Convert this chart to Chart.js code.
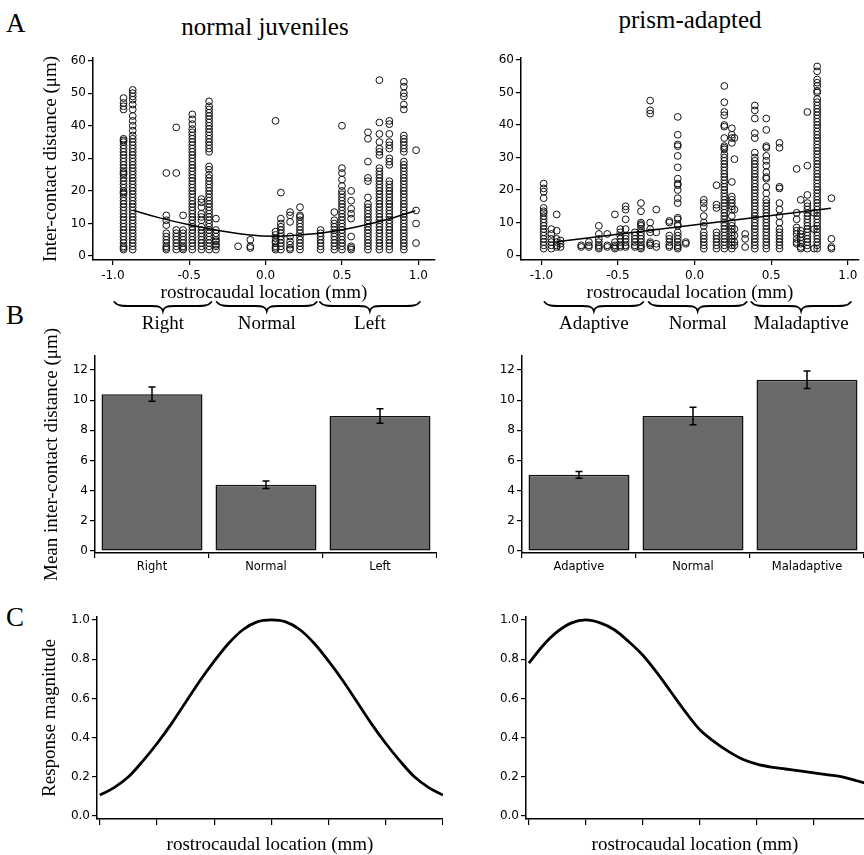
<!DOCTYPE html>
<html>
<head>
<meta charset="utf-8">
<script src="https://cdn.jsdelivr.net/npm/chart.js@4.4.0/dist/chart.umd.min.js"></script>
<style>
  html, body { margin: 0; padding: 0; background: #fff; }
  #fig { position: relative; width: 864px; height: 855px; overflow: hidden; background: #fff; }
  #fig canvas { position: absolute; }
  .lbl { position: absolute; font-family: 'Liberation Serif', 'Times New Roman', serif; color: #000; line-height: 1; white-space: nowrap; }
  .ttl { transform: translateX(-50%); font-size: 25px; }
  .panel { font-size: 27px; left: 6px; }
</style>
</head>
<body>
<div id="fig">
  <div class="lbl panel" style="top:10px">A</div>
  <div class="lbl panel" style="top:302px">B</div>
  <div class="lbl panel" style="top:604px">C</div>
  <div class="lbl ttl" style="left:265px; top:14px">normal juveniles</div>
  <div class="lbl ttl" style="left:690px; top:7px">prism-adapted</div>

  <canvas id="scatterJuv" width="440" height="300" style="left:0; top:40px"></canvas>
  <canvas id="scatterPrism" width="424" height="300" style="left:440px; top:40px"></canvas>
  <canvas id="barsJuv" width="437" height="275" style="left:0; top:310px"></canvas>
  <canvas id="barsPrism" width="424" height="275" style="left:440px; top:310px"></canvas>
  <canvas id="tuningJuv" width="443" height="256" style="left:0; top:600px"></canvas>
  <canvas id="tuningPrism" width="424" height="256" style="left:440px; top:600px"></canvas>
</div>

<script>
// ---- data: inter-contact distances, one column of points per recording site ----
const juvColX = [-0.93, -0.87, -0.65, -0.585, -0.54, -0.48, -0.42, -0.37, -0.325, -0.18, -0.1,
  0.065, 0.1, 0.16, 0.225, 0.36, 0.45, 0.5, 0.56, 0.67, 0.745, 0.81, 0.905, 0.985];
const juvColY = [
  [48.5, 47, 46, 45, 36, 35.5, 35, 34, 33, 32, 31, 30, 29, 28, 27, 26, 25.5, 25, 24, 23, 22, 21, 20, 19.5, 19, 18, 17, 16, 15, 14, 13, 12, 11, 10, 9, 8, 7, 6, 5, 4, 3, 2.5, 2],
  [51, 50, 49, 48, 46.5, 45, 43, 41.5, 40, 38.5, 37, 36, 35, 34, 33, 32, 31, 30, 29, 28, 27, 26, 25, 24, 23, 22, 21, 20, 19, 18, 17, 16, 15, 14, 13, 12, 11, 10, 9, 8, 7, 6, 5, 4, 3, 2],
  [25.5, 12.5, 11, 9.5, 7, 6, 5, 4, 3, 2.5, 2],
  [39.5, 25.5, 8, 7, 6, 5, 4, 3, 2],
  [12.5, 8, 7, 6, 5, 4, 3, 2.5, 2],
  [43.5, 42, 40.5, 39, 38, 37, 36, 35, 34, 33, 32, 31, 30, 29, 28, 27, 26, 25, 24, 23, 22, 21, 20, 19, 18, 17, 16, 15, 14, 13, 12, 11, 10, 9, 8, 7, 6, 5, 4, 3, 2],
  [17.5, 16.5, 15, 13, 12, 11, 9, 8, 7, 6, 5, 4, 3, 2],
  [47.5, 46, 45, 44, 43, 42, 41, 40, 39, 38, 37, 36, 35, 34, 33, 32, 27.5, 26.5, 25, 24, 23, 22, 21, 20, 19, 18, 17, 16, 15, 14, 13, 12, 11, 10, 9, 8, 7, 6, 5, 4, 3, 2],
  [11.5, 8, 7, 6, 5, 4.5, 3.5, 3, 2],
  [3],
  [5, 3, 2.5],
  [41.5, 7.5, 6.5, 5.5, 4.5, 4, 3, 2.5, 2],
  [19.5, 11.5, 10, 9, 8, 7, 6, 5, 4, 3, 2],
  [13.5, 12.5, 10.5, 6, 4.5, 3.5, 2.5, 2],
  [15, 12.5, 12, 11, 10, 9, 8, 7, 6, 5, 4, 3, 2],
  [8, 7, 6, 5, 4, 3, 2],
  [13.5, 11, 10, 9, 8, 7, 6, 5, 4, 3, 2],
  [40, 27, 25.5, 23.5, 21.5, 20, 19, 18, 17, 16, 15, 14, 13, 12, 11, 10, 9, 8, 7, 6, 5, 4, 3, 2],
  [20, 17, 14.5, 13, 11.5, 6, 3, 2.5, 2],
  [38, 36, 29, 24, 23, 18, 16, 15, 14, 13, 12, 11, 10, 9, 8, 7, 6, 5, 4, 3, 2],
  [54, 41, 37.5, 35, 33, 32, 31, 27, 26, 25, 24, 23, 22, 21, 20, 19, 18, 17, 16, 15, 14, 13, 12, 11, 10, 9, 8, 7, 6, 5, 4, 3, 2],
  [41.5, 40.5, 37.5, 35, 34, 33, 30, 29, 28, 23, 22, 21, 20, 19, 18, 17, 16, 15, 14, 13, 12, 11, 10, 9, 8, 7, 6, 5, 4, 3, 2],
  [53.5, 52, 50, 49, 46.5, 45, 37, 36, 35, 34, 33, 32, 29, 28, 27, 26, 25, 24, 23, 22, 21, 20, 19, 18, 17, 16, 15, 14, 13, 12, 11, 10, 9, 8, 7, 6, 5, 4, 3, 2],
  [32.5, 14, 10, 4]
];
// quadratic fit through the juvenile data
const juvFitX = [-0.87, -0.7, -0.5, -0.3, -0.1, 0.05, 0.2, 0.4, 0.6, 0.8, 0.98];
const juvFitY = [14.1, 11.8, 9.6, 7.8, 6.5, 6.1, 6.4, 7.3, 9.0, 11.3, 13.9];

const prismColX = [-0.985, -0.935, -0.9, -0.875, -0.74, -0.69, -0.625, -0.57, -0.52, -0.485, -0.45,
  -0.39, -0.35, -0.29, -0.25, -0.165, -0.11, -0.057, 0.06, 0.143, 0.194, 0.243, 0.26, 0.33,
  0.393, 0.468, 0.554, 0.666, 0.693, 0.736, 0.78, 0.8, 0.893];
const prismColY = [
  [22, 20.5, 19.5, 17.5, 14.5, 13.5, 13, 12, 11, 10, 9, 8, 7, 6, 5, 4, 3, 2],
  [8, 6.5, 5, 4, 3, 2],
  [12.5, 7.5, 5, 4, 3, 2.5],
  [4.5, 3.5, 2.5],
  [3, 2.5],
  [4, 3, 2.5],
  [9, 6.5, 5, 4, 3, 2.5, 2],
  [6.5, 3, 2.5],
  [12.5, 4, 3, 2.5, 2],
  [8, 7, 6, 5, 4, 3, 2.5],
  [15, 14, 11, 8, 6, 5, 4, 3, 2.5],
  [7, 6, 5, 4, 3, 2.5],
  [16, 13.5, 10, 9.5, 9, 8, 7, 6, 5, 4, 3, 2.5, 2],
  [47.5, 44.5, 43.5, 10, 8, 7, 4, 3.5, 3],
  [14, 7, 3.5, 2.5],
  [10.5, 10, 6, 5, 4, 3, 2.5],
  [42.5, 37, 34, 33.5, 30.5, 27, 23.5, 22, 21.5, 20, 17.5, 16, 11.5, 11, 9.5, 9, 7, 6, 5, 4, 3, 2.5, 2],
  [4, 3.5],
  [17, 16, 14.5, 12, 10, 9, 7, 6, 5, 4, 3, 2],
  [21.5, 15.5, 14.5, 7, 6, 5, 4, 3, 2],
  [52, 47, 44, 43, 40, 39.5, 36, 33.5, 33, 32.5, 31, 30, 29, 28, 27, 26, 25, 24, 23, 22, 21, 20, 19, 18, 17, 16, 15, 14, 13, 12, 11, 10, 9, 8, 7, 6, 5, 4, 3, 2],
  [39, 37, 36, 34.5, 22.5, 18, 17, 16, 15, 14, 12, 10, 9, 8, 7, 6, 5, 4, 3, 2],
  [36, 29.5, 14, 8, 6, 4, 3],
  [6.5, 5, 2.5],
  [46, 44.5, 42, 37.5, 36, 31.5, 30, 29, 28, 27, 26, 25, 24, 23, 22, 21, 20, 19, 18, 17, 16, 15, 14, 13, 12, 11, 10, 9, 8, 7, 6, 5, 4, 3, 2],
  [42, 38.5, 33.5, 33, 30.5, 29, 27.5, 25.5, 24, 23.5, 21, 19, 17, 16, 15, 14, 13, 12, 11, 10, 9, 8, 7, 6, 5, 4, 3, 2],
  [34.5, 33, 21, 20.5, 16, 14, 12, 10, 8, 7, 6, 5, 4, 3, 2],
  [26.5, 13, 11, 8.5, 7.5, 6.5, 5, 4, 3.5],
  [17, 7.5, 6.5, 5.5, 4.5, 3.5, 2.5, 2],
  [44, 27.5, 18.5, 16, 15, 14, 13, 12, 11, 10, 9, 8, 7, 6, 5, 4, 3, 2],
  [13, 8, 2],
  [58, 56.5, 54, 53, 52, 50.5, 50, 48, 47, 46, 45, 44, 43, 42, 41, 40, 39, 38, 37, 36, 35, 34, 33, 32, 31, 30, 29, 28, 27, 26, 25, 24, 23, 22, 21, 20, 19, 18, 17, 16, 15, 14, 13, 12, 11, 10, 9, 8, 7, 6, 5, 4, 3, 2],
  [17.5, 5, 2.5, 2]
];
// linear fit through the prism-adapted data
const prismFitX = [-0.9, 0.89];
const prismFitY = [4.1, 14.4];

const scatterXTicks = [-1, -0.5, 0, 0.5, 1];
const scatterYTicks = [0, 10, 20, 30, 40, 50, 60];

// zones along the rostrocaudal axis (mm) and their names
const juvZones = [[-0.99, -0.355], [-0.32, 0.335], [0.355, 1.01]];
const juvZoneNames = ['Right', 'Normal', 'Left'];
const prismZones = [[-0.98, -0.335], [-0.30, 0.34], [0.37, 1.02]];
const prismZoneNames = ['Adaptive', 'Normal', 'Maladaptive'];

// mean inter-contact distance per zone, with standard error
const juvMeans = [10.4, 4.4, 8.95];
const juvErr = [0.47, 0.25, 0.48];
const prismMeans = [5.05, 8.95, 11.35];
const prismErr = [0.22, 0.58, 0.58];
const barYTicks = [0, 2, 4, 6, 8, 10, 12];

// modelled response magnitude along the rostrocaudal axis
const tuningX = [0, 0.25, 0.5, 0.75, 1, 1.25, 1.5, 1.75, 2, 2.25, 2.5, 2.75, 3,
  3.25, 3.5, 3.75, 4, 4.25, 4.5, 4.75, 5, 5.25, 5.5, 5.75, 6];
const tuningJuvY = [0.107, 0.145, 0.20, 0.28, 0.37, 0.47, 0.58, 0.69, 0.79, 0.88, 0.95, 0.99, 1.0,
  0.99, 0.95, 0.88, 0.79, 0.69, 0.58, 0.47, 0.37, 0.28, 0.20, 0.145, 0.107];
const tuningPrismY = [0.78, 0.87, 0.94, 0.985, 1.0, 0.985, 0.95, 0.89, 0.82, 0.73, 0.63, 0.53, 0.44,
  0.38, 0.33, 0.29, 0.265, 0.25, 0.24, 0.23, 0.22, 0.21, 0.20, 0.18, 0.16];
const tuningXTicks = [0, 1, 2, 3, 4, 5, 6];
const tuningYTicks = [0, 0.2, 0.4, 0.6, 0.8, 1.0];

// ---- shared styling ----
const serif = "'Liberation Serif', 'Times New Roman', serif";
const sans = "'DejaVu Sans', 'Verdana', sans-serif";
Chart.defaults.color = '#000';
Chart.defaults.font.family = sans;
Chart.defaults.animation = false;
Chart.defaults.plugins.legend.display = false;
Chart.defaults.plugins.tooltip.enabled = false;

const fixedTicks = values => scale => { scale.ticks = values.map(v => ({ value: v })); };
// pin the axis box sizes so the plot areas line up across panels
const fixedWidth = w => scale => { scale.width = w; scale.paddingTop = 0; scale.paddingBottom = 0; };
const fixedHeight = h => scale => { scale.height = h; scale.paddingLeft = 0; scale.paddingRight = 0; };

function axis(tickLen) {
  return {
    grid: { drawOnChartArea: false, drawTicks: true, tickLength: tickLen, color: '#000', lineWidth: 1.2 },
    border: { display: true, color: '#000', width: 1.5 }
  };
}

function yTitle(text, centerX) {
  return { display: true, text, font: { family: serif, size: 19 }, padding: { top: centerX - 11.4, bottom: 0 } };
}

const toPoints = (xs, cols) => xs.flatMap((x, i) => cols[i].map(y => ({ x, y })));
const zip = (xs, ys) => xs.map((x, i) => ({ x, y: ys[i] }));

// curly braces marking the three zones under the scatter plots
const bracePlugin = {
  id: 'braces',
  afterDraw(chart, args, opts) {
    const { ctx, chartArea, scales: { x } } = chart;
    const top = chartArea.bottom + 42;
    const ym = top + 4;
    const tip = top + 9;
    ctx.save();
    ctx.strokeStyle = '#000';
    ctx.lineWidth = 1.8;
    ctx.lineCap = 'round';
    ctx.fillStyle = '#000';
    ctx.font = `19px ${serif}`;
    ctx.textAlign = 'center';
    ctx.textBaseline = 'alphabetic';
    opts.zones.forEach((z, i) => {
      const x0 = x.getPixelForValue(z[0]);
      const x1 = x.getPixelForValue(z[1]);
      const xc = (x0 + x1) / 2;
      ctx.beginPath();
      ctx.moveTo(x0, top);
      ctx.bezierCurveTo(x0 + 3, ym, x0 + 8, ym, x0 + 18, ym);
      ctx.lineTo(xc - 12, ym);
      ctx.bezierCurveTo(xc - 4, ym, xc - 1, ym + 1, xc, tip);
      ctx.bezierCurveTo(xc + 1, ym + 1, xc + 4, ym, xc + 12, ym);
      ctx.lineTo(x1 - 18, ym);
      ctx.bezierCurveTo(x1 - 8, ym, x1 - 3, ym, x1, top);
      ctx.stroke();
      ctx.fillText(opts.labels[i], xc, chartArea.bottom + 69);
    });
    ctx.restore();
  }
};

// standard error bars on top of the mean bars
const errorBarPlugin = {
  id: 'errorBars',
  afterDatasetsDraw(chart, args, opts) {
    const { ctx, scales: { y } } = chart;
    const means = chart.data.datasets[0].data;
    ctx.save();
    ctx.strokeStyle = '#000';
    ctx.lineWidth = 1.5;
    chart.getDatasetMeta(0).data.forEach((bar, i) => {
      const hi = y.getPixelForValue(means[i] + opts.errors[i]);
      const lo = y.getPixelForValue(means[i] - opts.errors[i]);
      ctx.beginPath();
      ctx.moveTo(bar.x, hi); ctx.lineTo(bar.x, lo);
      ctx.moveTo(bar.x - 3.5, hi); ctx.lineTo(bar.x + 3.5, hi);
      ctx.moveTo(bar.x - 3.5, lo); ctx.lineTo(bar.x + 3.5, lo);
      ctx.stroke();
    });
    ctx.restore();
  }
};

function scatterChart(id, cfg) {
  new Chart(document.getElementById(id), {
    type: 'scatter',
    data: {
      datasets: [
        {
          type: 'line',
          data: cfg.fit,
          borderColor: '#000',
          borderWidth: 1.5,
          pointRadius: 0,
          tension: cfg.tension,
          order: 0
        },
        {
          data: cfg.points,
          pointStyle: 'circle',
          pointRadius: 3.4,
          pointBorderWidth: 1,
          pointBorderColor: '#111',
          pointBackgroundColor: 'rgba(0,0,0,0)',
          order: 1
        }
      ]
    },
    options: {
      responsive: false,
      layout: { padding: { top: 18, bottom: 36, left: 0, right: 0 } },
      scales: {
        x: {
          ...axis(5),
          min: cfg.xMin, max: cfg.xMax,
          afterBuildTicks: fixedTicks(scatterXTicks),
          afterFit: fixedHeight(44),
          ticks: { autoSkip: false, maxRotation: 0, padding: 4, font: { size: 12 }, callback: v => v.toFixed(1) },
          title: { display: true, text: 'rostrocaudal location (mm)', font: { family: serif, size: 19 }, padding: { top: 0, bottom: 0 } }
        },
        y: {
          ...axis(5),
          min: cfg.yMin, max: cfg.yMax,
          afterBuildTicks: fixedTicks(scatterYTicks),
          afterFit: fixedWidth(cfg.yWidth),
          ticks: { padding: 2, font: { size: 12 } },
          title: cfg.yTitle || { display: false }
        }
      },
      plugins: { braces: { zones: cfg.zones, labels: cfg.zoneNames } }
    },
    plugins: [bracePlugin]
  });
}

function barChart(id, cfg) {
  new Chart(document.getElementById(id), {
    type: 'bar',
    data: {
      labels: cfg.labels,
      datasets: [{
        data: cfg.means,
        backgroundColor: '#6a6a6a',
        borderColor: '#111',
        borderWidth: 1.5,
        borderSkipped: false,
        barPercentage: 0.886,
        categoryPercentage: 1.0
      }]
    },
    options: {
      responsive: false,
      layout: { padding: { top: 46, bottom: 5, left: 0, right: 0 } },
      scales: {
        x: {
          ...axis(5),
          grid: { ...axis(5).grid, offset: true },
          afterFit: fixedHeight(27),
          ticks: { padding: 2, font: { size: 11.5 } }
        },
        y: {
          ...axis(5),
          min: -0.13, max: 12.93,
          afterBuildTicks: fixedTicks(barYTicks),
          afterFit: fixedWidth(cfg.yWidth),
          ticks: { padding: 2, font: { size: 12 } },
          title: cfg.yTitle || { display: false }
        }
      },
      plugins: { errorBars: { errors: cfg.errors } }
    },
    plugins: [errorBarPlugin]
  });
}

function tuningChart(id, cfg) {
  new Chart(document.getElementById(id), {
    type: 'line',
    data: {
      datasets: [{
        data: zip(tuningX, cfg.values),
        borderColor: '#000',
        borderWidth: 2.8,
        pointRadius: 0,
        cubicInterpolationMode: 'monotone'
      }]
    },
    options: {
      responsive: false,
      layout: { padding: { top: 17, bottom: 0, left: 0, right: 0 } },
      scales: {
        x: {
          ...axis(6),
          type: 'linear',
          min: -0.05, max: cfg.xMax,
          afterBuildTicks: fixedTicks(tuningXTicks),
          afterFit: fixedHeight(37),
          ticks: { display: false },
          title: { display: true, text: 'rostrocaudal location (mm)', font: { family: serif, size: 19 }, padding: { top: 0, bottom: 0 } }
        },
        y: {
          ...axis(5),
          min: -0.015, max: 1.015,
          afterBuildTicks: fixedTicks(tuningYTicks),
          afterFit: fixedWidth(cfg.yWidth),
          ticks: { padding: 2, font: { size: 12 }, callback: v => v.toFixed(1) },
          title: cfg.yTitle || { display: false }
        }
      }
    }
  });
}

// A: distances along the rostrocaudal axis
scatterChart('scatterJuv', {
  points: toPoints(juvColX, juvColY), fit: zip(juvFitX, juvFitY), tension: 0.4,
  xMin: -1.13, xMax: 1.109, yMin: -1.2, yMax: 60.8, yWidth: 93,
  zones: juvZones, zoneNames: juvZoneNames,
  yTitle: yTitle('Inter-contact distance (μm)', 51)
});
scatterChart('scatterPrism', {
  points: toPoints(prismColX, prismColY), fit: zip(prismFitX, prismFitY), tension: 0,
  xMin: -1.133, xMax: 1.073, yMin: -1.5, yMax: 60.6, yWidth: 81,
  zones: prismZones, zoneNames: prismZoneNames
});

// B: zone means
barChart('barsJuv', {
  labels: juvZoneNames, means: juvMeans, errors: juvErr, yWidth: 95,
  yTitle: yTitle('Mean inter-contact distance (μm)', 52)
});
barChart('barsPrism', {
  labels: prismZoneNames, means: prismMeans, errors: prismErr, yWidth: 82
});

// C: response magnitude
tuningChart('tuningJuv', {
  values: tuningJuvY, xMax: 6.0, yWidth: 97,
  yTitle: yTitle('Response magnitude', 50)
});
tuningChart('tuningPrism', {
  values: tuningPrismY, xMax: 5.88, yWidth: 86
});
</script>
</body>
</html>
